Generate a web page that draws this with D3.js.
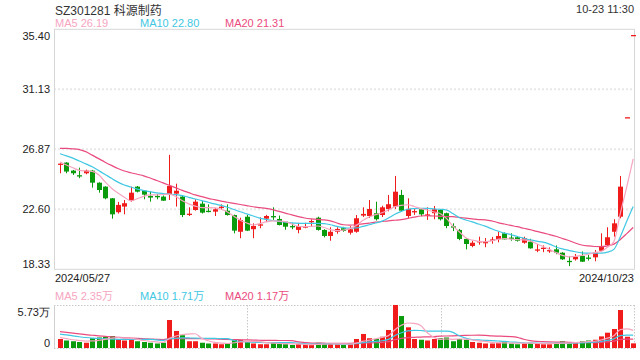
<!DOCTYPE html>
<html><head><meta charset="utf-8">
<script src="https://cdn.jsdelivr.net/npm/d3@7"></script>
<style>
html,body{margin:0;padding:0;background:#fff;}
svg{display:block;font-family:"Liberation Sans",Arial,"Noto Sans CJK SC",sans-serif;}
</style></head><body>
<svg id="c" width="640" height="360"></svg>
<script>
const title = "SZ301281 科源制药";
const timeLabel = "10-23 11:30";
const dateLabels = ["2024/05/27", "2024/10/23"];
const priceTicks = [35.40, 31.13, 26.87, 22.60, 18.33];
const volTicks = [5.73, 0];
const priceLegend = [["MA5", "26.19"], ["MA10", "22.80"], ["MA20", "21.31"]];
const volLegend = [["MA5", "2.35万"], ["MA10", "1.71万"], ["MA20", "1.17万"]];

const open = [25.78,25.92,25.35,25.00,25.16,25.35,24.49,24.21,23.38,22.39,
22.79,23.21,24.21,23.92,23.55,23.52,23.50,23.69,23.71,23.50,
22.22,22.55,23.00,22.46,22.43,22.72,22.50,22.19,21.00,22.07,
21.18,21.46,21.93,22.09,21.91,21.72,21.38,21.13,21.29,21.70,
22.00,21.13,20.70,21.00,21.25,20.93,21.00,22.15,22.12,22.32,
22.19,22.62,22.79,23.62,22.12,22.40,22.60,22.17,22.32,22.55,
22.32,21.36,21.13,20.49,19.99,20.27,20.18,20.39,20.46,20.89,
20.56,20.61,20.22,20.29,19.68,19.80,19.63,19.75,19.51,18.90,
19.04,19.28,19.13,19.18,19.65,20.06,21.00,22.07,29.10,34.95];
const high = [25.87,25.95,25.40,25.56,25.42,25.40,24.52,24.24,23.40,23.12,
23.26,24.21,24.26,23.95,23.85,23.69,23.58,26.47,24.42,23.55,
22.74,23.31,23.19,22.95,22.70,22.95,22.95,22.22,22.00,22.20,
21.60,22.02,22.20,22.74,22.15,21.75,21.60,21.64,21.64,21.89,
22.07,21.18,21.32,21.32,21.35,21.40,22.19,22.74,23.26,23.14,
22.85,23.62,24.97,23.98,23.38,22.67,22.67,22.74,22.83,22.60,
22.36,21.60,21.20,20.55,20.36,20.65,20.55,20.63,21.00,20.95,
20.89,20.70,20.65,20.50,20.13,20.03,19.89,20.03,19.55,19.28,
19.42,19.60,19.35,19.70,20.89,21.32,21.89,24.97,29.10,34.95];
const low = [25.16,25.16,25.04,24.81,25.09,24.14,23.78,23.31,21.93,22.29,
22.24,23.14,23.80,23.31,23.14,23.31,23.20,23.26,22.79,22.05,
22.12,22.50,22.30,22.38,22.12,22.55,22.15,20.89,20.54,21.05,
20.54,21.25,21.70,21.85,21.45,21.14,21.18,20.89,21.25,21.41,
21.08,20.60,20.36,20.86,21.00,20.80,20.93,22.05,21.98,21.80,
22.05,22.45,22.62,22.45,21.96,22.20,22.10,21.84,21.89,21.80,
21.25,21.05,20.40,19.75,19.90,20.08,19.90,20.15,20.25,20.46,
20.36,20.30,20.15,19.80,19.55,19.55,19.50,19.40,19.00,18.56,
18.95,18.85,18.95,18.90,19.65,19.99,20.65,21.96,29.10,34.95];
const close = [25.82,25.28,25.16,24.95,25.35,24.49,23.97,23.38,22.24,22.91,
23.03,23.78,23.85,23.64,23.43,23.48,23.21,24.26,23.92,22.19,
22.26,23.14,22.36,22.43,22.60,22.76,22.19,21.08,21.84,21.08,
21.41,21.50,22.12,22.05,21.48,21.36,21.34,21.41,21.41,21.74,
21.13,20.70,21.00,21.20,21.06,21.18,21.96,22.27,22.62,21.89,
22.74,22.96,23.85,22.50,22.62,22.45,22.24,22.21,22.60,21.89,
21.41,21.32,20.49,20.13,20.22,20.31,20.29,20.43,20.70,20.46,
20.52,20.36,20.54,19.82,19.72,19.84,19.67,19.51,19.04,18.87,
19.23,18.87,19.11,19.51,19.99,20.61,21.60,24.21,29.10,34.95];

const ma5 = [25.95,25.75,25.55,25.37,25.32,25.29,25.05,24.55,24.10,23.75,
23.45,23.20,23.35,23.52,23.62,23.63,23.65,23.68,23.50,23.20,
22.98,22.82,22.72,22.72,22.70,22.62,22.40,22.10,21.82,21.62,
21.48,21.58,21.70,21.78,21.76,21.72,21.55,21.38,21.36,21.38,
21.41,21.30,21.15,21.08,21.12,21.22,21.45,21.80,22.05,22.22,
22.35,22.55,22.78,22.88,22.92,22.80,22.65,22.55,22.42,22.30,
21.95,21.40,21.00,20.58,20.40,20.32,20.29,20.36,20.46,20.52,
20.48,20.44,20.42,20.35,20.15,19.95,19.75,19.52,19.32,19.22,
19.25,19.32,19.40,19.52,19.60,19.90,20.30,22.30,24.20,26.19];
const ma10 = [26.55,26.40,26.24,26.03,25.83,25.62,25.35,25.08,24.80,24.53,
24.33,24.18,24.03,23.93,23.85,23.77,23.72,23.68,23.64,23.57,
23.45,23.33,23.22,23.10,22.98,22.88,22.74,22.58,22.42,22.27,
22.12,21.97,21.88,21.80,21.74,21.68,21.63,21.60,21.59,21.60,
21.60,21.58,21.50,21.38,21.30,21.26,21.27,21.38,21.50,21.62,
21.76,21.98,22.24,22.45,22.60,22.65,22.67,22.66,22.63,22.60,
22.55,22.30,22.00,21.84,21.70,21.55,21.40,21.22,21.05,20.90,
20.80,20.66,20.54,20.42,20.33,20.26,20.12,19.92,19.78,19.68,
19.58,19.50,19.48,19.47,19.48,19.55,19.75,20.65,21.75,22.80];
const ma20 = [26.93,26.93,26.90,26.84,26.70,26.45,26.20,25.95,25.72,25.50,
25.32,25.20,25.09,24.98,24.82,24.65,24.48,24.30,24.12,23.94,
23.78,23.62,23.50,23.38,23.28,23.18,23.10,23.02,22.94,22.86,
22.78,22.72,22.66,22.57,22.45,22.33,22.20,22.08,21.98,21.92,
21.88,21.85,21.78,21.62,21.50,21.47,21.50,21.56,21.62,21.68,
21.73,21.78,21.82,21.86,21.95,22.04,22.12,22.15,22.12,22.10,
22.08,22.07,22.02,21.97,21.92,21.87,21.85,21.78,21.65,21.55,
21.45,21.36,21.25,21.15,21.03,20.92,20.80,20.68,20.52,20.38,
20.20,20.06,19.99,19.95,19.94,20.00,20.12,20.45,20.87,21.31];

const volume = [1.2,1.0,0.9,0.8,0.7,1.3,1.4,1.5,1.6,1.2,
1.0,1.1,0.9,0.8,0.7,0.6,0.7,3.73,2.27,1.7,
0.9,0.9,0.7,0.6,0.6,0.5,0.6,1.2,1.1,0.9,
0.6,0.5,0.5,0.8,0.6,0.5,0.4,0.5,0.4,0.4,
0.7,0.6,0.6,0.5,0.4,0.5,1.2,1.87,1.3,1.2,
1.5,2.4,5.73,4.26,2.76,1.2,1.1,1.0,1.2,1.3,
1.4,0.9,1.2,1.1,0.8,0.7,0.6,0.6,0.7,0.8,
0.6,0.5,0.6,0.7,0.6,0.5,0.5,0.7,0.9,0.7,
0.8,0.9,1.0,1.1,1.55,2.04,2.53,5.06,1.5,0.62];
const vma5 = [1.40,1.25,1.10,1.00,0.92,0.94,1.02,1.14,1.30,1.40,
1.34,1.28,1.16,1.00,0.90,0.82,0.74,1.31,1.60,1.80,
1.86,1.90,1.29,0.96,0.74,0.66,0.60,0.70,0.80,0.86,
0.88,0.86,0.72,0.66,0.60,0.58,0.56,0.56,0.48,0.44,
0.48,0.52,0.54,0.56,0.56,0.52,0.64,0.89,1.05,1.21,
1.41,1.65,2.43,3.02,3.33,3.27,3.01,2.06,1.45,1.16,
1.20,1.16,1.20,1.18,1.08,0.94,0.88,0.76,0.68,0.68,
0.66,0.64,0.64,0.64,0.60,0.58,0.58,0.60,0.64,0.66,
0.72,0.80,0.86,0.90,1.07,1.32,1.64,2.46,2.54,2.35];
const vma10 = [1.85,1.75,1.62,1.50,1.40,1.32,1.27,1.22,1.19,1.16,
1.14,1.15,1.15,1.15,1.15,1.08,1.01,1.23,1.30,1.35,
1.34,1.32,1.30,1.28,1.27,1.26,1.25,1.00,0.88,0.80,
0.77,0.73,0.71,0.73,0.73,0.73,0.71,0.64,0.57,0.52,
0.53,0.54,0.55,0.52,0.50,0.50,0.58,0.72,0.81,0.89,
0.97,1.15,1.66,2.04,2.27,2.34,2.33,2.25,2.24,2.25,
2.24,2.09,1.63,1.32,1.12,1.07,1.02,0.98,0.93,0.88,
0.80,0.76,0.70,0.66,0.64,0.62,0.61,0.62,0.64,0.63,
0.65,0.69,0.73,0.77,0.87,1.02,1.22,1.66,1.72,1.71];
const vma20 = [2.17,2.08,1.98,1.88,1.78,1.70,1.62,1.55,1.48,1.42,
1.36,1.31,1.27,1.23,1.19,1.15,1.12,1.22,1.25,1.26,
1.24,1.24,1.23,1.22,1.21,1.17,1.13,1.12,1.09,1.08,
1.06,1.03,1.01,1.01,1.00,1.00,0.98,0.82,0.73,0.66,
0.65,0.64,0.63,0.63,0.62,0.62,0.65,0.68,0.69,0.70,
0.75,0.84,1.11,1.28,1.39,1.42,1.46,1.48,1.52,1.57,
1.60,1.62,1.65,1.68,1.70,1.71,1.68,1.61,1.58,1.56,
1.52,1.42,1.17,0.99,0.88,0.85,0.82,0.80,0.79,0.76,
0.73,0.73,0.72,0.72,0.75,0.82,0.92,1.14,1.18,1.17];

const RED = "#f01c1c", GREEN = "#0a9b0c";
const C5 = "#f6a5bf", C10 = "#3fc7e3", C20 = "#ea4b7e";
const legendColors = [C5, C10, C20];

const svg = d3.select("#c");
const n = close.length;
const L = 54, R = 634, T = 29.3, B = 269.3, VT = 305, VB = 348;
const x = d3.scalePoint().domain(d3.range(n)).range([60, 633.2]);
const y = d3.scaleLinear().domain([18.33, 35.40]).range([B, T]);
const yv = d3.scaleLinear().domain([0, 5.73]).range([VB, VT]);

// header
svg.append("text").attr("x", 55).attr("y", 15).attr("font-size", 12).attr("fill", "#333").text(title);
svg.append("text").attr("x", 634).attr("y", 12.5).attr("text-anchor", "end").attr("font-size", 11).attr("fill", "#333").text(timeLabel);
const legX = [55, 140, 225];
priceLegend.forEach((d, i) => svg.append("text").attr("x", legX[i]).attr("y", 27).attr("font-size", 11)
  .attr("fill", legendColors[i]).text(d[0] + " " + d[1]));
volLegend.forEach((d, i) => svg.append("text").attr("x", legX[i]).attr("y", 299.5).attr("font-size", 11)
  .attr("fill", legendColors[i]).text(d[0] + " " + d[1]));

// price grid
svg.append("g").selectAll("line").data(priceTicks.slice(1, -1)).join("line")
  .attr("x1", L).attr("x2", R).attr("y1", d => y(d)).attr("y2", d => y(d))
  .attr("stroke", "#e8e8e8").attr("stroke-width", 2).attr("stroke-dasharray", "2,2");
svg.append("rect").attr("x", L + 0.5).attr("y", T).attr("width", R - L).attr("height", B - T)
  .attr("fill", "none").attr("stroke", "#d6d6d6").attr("stroke-width", 1);

// price axis
const ay = svg.append("g").attr("transform", `translate(${L},0)`)
  .call(d3.axisLeft(y).tickValues(priceTicks).tickSize(0).tickPadding(4).tickFormat(d => d.toFixed(2)));
ay.select(".domain").remove();
ay.selectAll("text").attr("font-size", 11).attr("fill", "#222").style("font-family", "inherit")
  .attr("dy", (d, i) => i === 0 ? "0.95em" : (i === priceTicks.length - 1 ? "-0.15em" : "0.32em"));

// date labels
svg.append("text").attr("x", 55).attr("y", 282).attr("font-size", 11).attr("fill", "#222").text(dateLabels[0]);
svg.append("text").attr("x", 634).attr("y", 282).attr("font-size", 11).attr("fill", "#222").attr("text-anchor", "end").text(dateLabels[1]);

// candles
const cg = svg.append("g");
d3.range(n).forEach(i => {
  const up = close[i] >= open[i];
  const col = up ? RED : GREEN;
  const cx = Math.round(x(i)) + 0.5;
  cg.append("line").attr("x1", cx).attr("x2", cx).attr("y1", y(high[i])).attr("y2", y(low[i]))
    .attr("stroke", col).attr("stroke-width", 1);
  const top = y(Math.max(open[i], close[i])), bot = y(Math.min(open[i], close[i]));
  const h = Math.max(1.3, bot - top);
  cg.append("rect").attr("x", cx - 2.5).attr("y", (bot - top) < 1.3 ? (top + bot) / 2 - 0.65 : top)
    .attr("width", 5).attr("height", h).attr("fill", col);
});

// MA lines
const line = arr => d3.line().x((d, i) => x(i)).y(d => y(d)).curve(d3.curveMonotoneX)(arr);
[[ma20, C20], [ma10, C10], [ma5, C5]].forEach(([arr, c]) =>
  svg.append("path").attr("d", line(arr)).attr("fill", "none").attr("stroke", c).attr("stroke-width", 1.2));

// volume pane frame
const vf = svg.append("g");
vf.append("line").attr("x1", L).attr("x2", R).attr("y1", VT + 0.5).attr("y2", VT + 0.5)
  .attr("stroke", "#c8c8c8").attr("stroke-dasharray", "1.5,1.5");
vf.append("line").attr("x1", L).attr("x2", R).attr("y1", VB + 0.5).attr("y2", VB + 0.5)
  .attr("stroke", "#c8c8c8").attr("stroke-dasharray", "1.5,1.5");
[L + (R - L) / 3, L + 2 * (R - L) / 3, R].forEach(v =>
  vf.append("line").attr("x1", Math.round(v) + 0.5).attr("x2", Math.round(v) + 0.5).attr("y1", VT).attr("y2", VB)
    .attr("stroke", "#c8c8c8").attr("stroke-dasharray", "1.5,1.5"));
vf.append("line").attr("x1", L + 0.5).attr("x2", L + 0.5).attr("y1", VT).attr("y2", VB).attr("stroke", "#d0d0d0");

// volume axis
const av = svg.append("g").attr("transform", `translate(${L},0)`)
  .call(d3.axisLeft(yv).tickValues(volTicks).tickSize(0).tickPadding(4).tickFormat(d => d === 0 ? "0" : d.toFixed(2) + "万"));
av.select(".domain").remove();
av.selectAll("text").attr("font-size", 11).attr("fill", "#222").style("font-family", "inherit")
  .attr("dy", (d, i) => i === 0 ? "0.95em" : "-0.15em");

// volume bars
svg.append("g").selectAll("rect").data(volume).join("rect")
  .attr("x", (d, i) => Math.round(x(i)) - 2).attr("width", 5)
  .attr("y", d => yv(d)).attr("height", d => yv(0) - yv(d))
  .attr("fill", (d, i) => close[i] >= open[i] ? RED : GREEN);

const vline = arr => d3.line().x((d, i) => x(i)).y(d => yv(d)).curve(d3.curveMonotoneX)(arr);
[[vma20, C20], [vma10, C10], [vma5, C5]].forEach(([arr, c]) =>
  svg.append("path").attr("d", vline(arr)).attr("fill", "none").attr("stroke", c).attr("stroke-width", 1.2));
</script>
</body></html>
